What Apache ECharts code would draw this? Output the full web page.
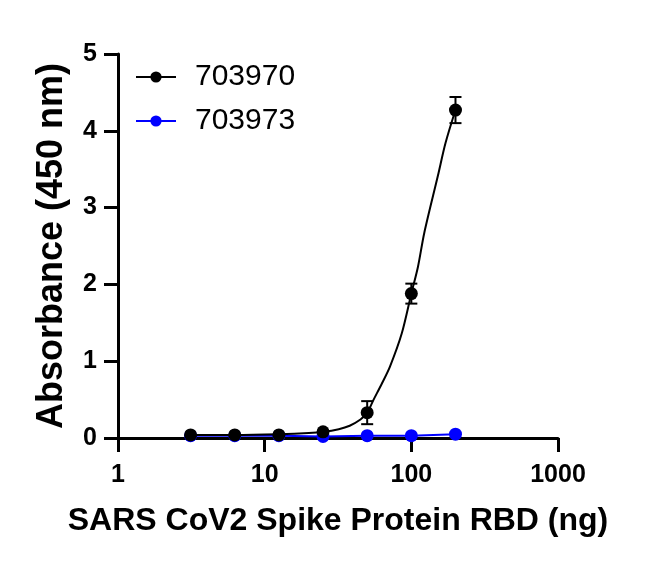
<!DOCTYPE html>
<html>
<head>
<meta charset="utf-8">
<script src="https://cdn.jsdelivr.net/npm/echarts@6/dist/echarts.min.js"></script>
<style>
  html, body { margin: 0; padding: 0; background: #fff; }
  #chart { width: 650px; height: 571px; }
</style>
</head>
<body>
<div id="chart"></div>
<script>
// concentrations (ng)
var doses = [3.125, 6.25, 12.5, 25, 50, 100, 200];
// 703970 mean and SD
var meanA = [0.04, 0.04, 0.04, 0.08, 0.33, 1.88, 4.27];
var sdA = [0, 0, 0, 0, 0.15, 0.13, 0.17];
// 703973
var meanB = [0.03, 0.03, 0.03, 0.02, 0.03, 0.03, 0.05];
// fitted curve for 703970
var curveX = [3.125, 6.25, 12.5, 20, 25, 32, 38, 45, 50, 55, 63, 71.5, 86, 100, 111, 122.5, 152, 171, 200];
var curveY = [0.04, 0.04, 0.05, 0.065, 0.08, 0.115, 0.16, 0.24, 0.33, 0.49, 0.71, 0.93, 1.36, 1.88, 2.23, 2.67, 3.42, 3.84, 4.27];
var xTicks = [1, 10, 100, 1000];

var chart = echarts.init(document.getElementById("chart"));

var font = "'Liberation Sans', Arial, sans-serif";

var pointsA = doses.map(function (d, i) { return [d, meanA[i]]; });
var pointsB = doses.map(function (d, i) { return [d, meanB[i]]; });
var curve = curveX.map(function (d, i) { return [d, curveY[i]]; });
var errA = doses.map(function (d, i) { return [d, meanA[i] - sdA[i], meanA[i] + sdA[i]]; });

chart.setOption({
  animation: false,
  grid: { left: 118, right: 92, top: 54, bottom: 133 },
  legend: {
    data: ["703970", "703973"],
    orient: "vertical",
    left: 130,
    top: 57,
    itemWidth: 40,
    itemHeight: 14,
    itemGap: 14,
    textStyle: {
      fontFamily: font,
      fontSize: 30,
      color: "#000",
      padding: [0, 0, 0, 14],
    },
  },
  xAxis: {
    type: "log",
    logBase: 10,
    min: 1,
    max: 1000,
    name: "SARS CoV2 Spike Protein RBD (ng)",
    nameLocation: "middle",
    nameGap: 67,
    nameTextStyle: { fontFamily: font, fontSize: 32, fontWeight: "bold", color: "#000" },
    axisLine: { lineStyle: { color: "#000", width: 3 } },
    axisTick: { show: true, length: 14, lineStyle: { color: "#000", width: 3 } },
    minorTick: { show: false },
    axisLabel: {
      margin: 25,
      fontFamily: font,
      fontSize: 25,
      fontWeight: "bold",
      color: "#000",
      formatter: function (v) { return xTicks.indexOf(v) >= 0 ? String(v) : ""; },
    },
    splitLine: { show: false },
  },
  yAxis: {
    type: "value",
    min: 0,
    max: 5,
    interval: 1,
    name: "Absorbance (450 nm)",
    nameLocation: "middle",
    nameGap: 48,
    nameTextStyle: { fontFamily: font, fontSize: 36, fontWeight: "bold", color: "#000" },
    axisLine: { show: true, lineStyle: { color: "#000", width: 3 } },
    axisTick: { show: true, length: 14, lineStyle: { color: "#000", width: 3 } },
    axisLabel: {
      margin: 21,
      fontFamily: font,
      fontSize: 25,
      fontWeight: "bold",
      color: "#000",
    },
    splitLine: { show: false },
  },
  series: [
    {
      name: "703970",
      type: "line",
      data: curve,
      smooth: 0.3,
      symbol: "circle",
      symbolSize: 11,
      showSymbol: false,
      itemStyle: { color: "#000" },
      lineStyle: { color: "#000", width: 2 },
      z: 3,
    },
    {
      name: "703973",
      type: "line",
      data: pointsB,
      symbol: "circle",
      symbolSize: 13,
      itemStyle: { color: "#0000ff", opacity: 1 },
      lineStyle: { color: "#0000ff", width: 2 },
      z: 2,
    },
    {
      name: "703970 points",
      type: "scatter",
      data: pointsA,
      symbol: "circle",
      symbolSize: 13,
      itemStyle: { color: "#000", opacity: 1 },
      z: 4,
    },
    {
      name: "703970 sd",
      type: "custom",
      data: errA,
      z: 4,
      renderItem: function (params, api) {
        var lo = api.coord([api.value(0), api.value(1)]);
        var hi = api.coord([api.value(0), api.value(2)]);
        if (Math.abs(lo[1] - hi[1]) < 1) return null;
        var w = 6;
        var style = { stroke: "#000", lineWidth: 2 };
        return {
          type: "group",
          children: [
            { type: "line", shape: { x1: lo[0], y1: lo[1], x2: hi[0], y2: hi[1] }, style: style },
            { type: "line", shape: { x1: hi[0] - w, y1: hi[1], x2: hi[0] + w, y2: hi[1] }, style: style },
            { type: "line", shape: { x1: lo[0] - w, y1: lo[1], x2: lo[0] + w, y2: lo[1] }, style: style },
          ],
        };
      },
    },
  ],
});
</script>
</body>
</html>
